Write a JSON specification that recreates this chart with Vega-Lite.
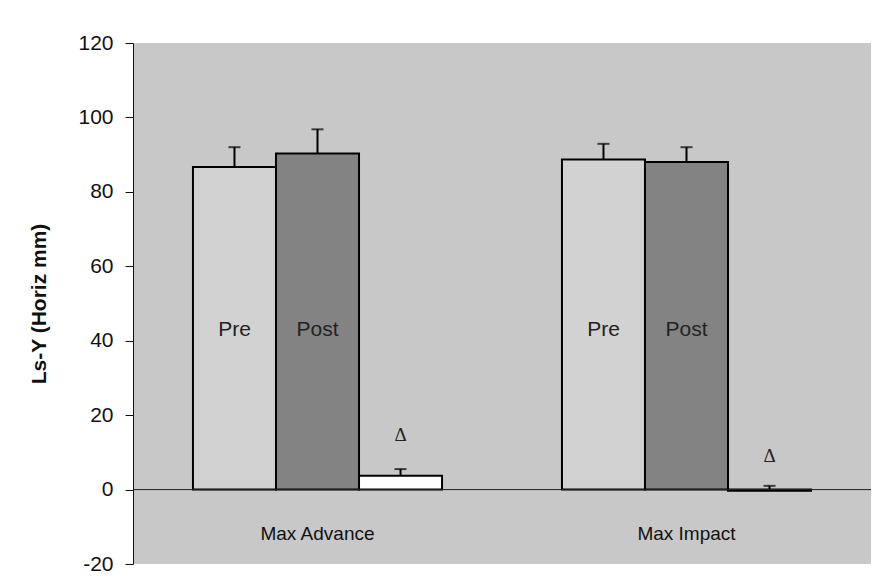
{
  "$schema": "https://vega.github.io/schema/vega-lite/v6.json",
  "width": 738,
  "height": 521,
  "autosize": {"type": "none"},
  "padding": {"left": 133, "top": 43, "right": 4, "bottom": 23},
  "background": "white",
  "config": {
    "view": {"fill": "#c8c8c8", "stroke": null},
    "font": "Liberation Sans"
  },
  "datasets": {
    "bars": [
      {"measure": "Max Advance", "phase": "Pre", "value": 86.7, "upper": 92.0},
      {"measure": "Max Advance", "phase": "Post", "value": 90.3, "upper": 96.8},
      {"measure": "Max Advance", "phase": "Δ", "value": 3.7, "upper": 5.5},
      {"measure": "Max Impact", "phase": "Pre", "value": 88.7, "upper": 92.9},
      {"measure": "Max Impact", "phase": "Post", "value": 88.0, "upper": 92.0},
      {"measure": "Max Impact", "phase": "Δ", "value": -0.3, "upper": 1.0}
    ],
    "labels": [
      {"measure": "Max Advance", "phase": "Pre", "at": 43, "text": "Pre"},
      {"measure": "Max Advance", "phase": "Post", "at": 43, "text": "Post"},
      {"measure": "Max Impact", "phase": "Pre", "at": 43, "text": "Pre"},
      {"measure": "Max Impact", "phase": "Post", "at": 43, "text": "Post"}
    ],
    "deltas": [
      {"measure": "Max Advance", "phase": "Δ", "at": 14.7, "text": "Δ"},
      {"measure": "Max Impact", "phase": "Δ", "at": 8.9, "text": "Δ"}
    ]
  },
  "encoding": {
    "x": {
      "field": "measure",
      "type": "nominal",
      "sort": ["Max Advance", "Max Impact"],
      "scale": {"paddingInner": 0.325, "paddingOuter": 0.1625},
      "axis": {
        "title": null,
        "labelAngle": 0,
        "labelFont": "Liberation Sans",
        "labelFontSize": 19,
        "labelColor": "#111",
        "labelPadding": 34,
        "domain": false,
        "ticks": false,
        "offset": -74
      }
    },
    "xOffset": {
      "field": "phase",
      "type": "nominal",
      "sort": ["Pre", "Post", "Δ"],
      "scale": {"paddingInner": 0, "paddingOuter": 0}
    }
  },
  "layer": [
    {
      "data": {"name": "bars"},
      "mark": {"type": "bar", "stroke": "black", "strokeWidth": 2},
      "encoding": {
        "y": {
          "field": "value",
          "type": "quantitative",
          "scale": {"domain": [-20, 120], "nice": false},
          "axis": {
            "title": "Ls-Y (Horiz mm)",
            "titleFont": "Liberation Sans",
            "titleFontSize": 21,
            "titleFontWeight": "bold",
            "titleColor": "#111",
            "titlePadding": 28,
            "values": [-20, 0, 20, 40, 60, 80, 100, 120],
            "labelExpr": "datum.value < 0 ? '-' + abs(datum.value) : datum.label",
            "grid": false,
            "domainColor": "#111",
            "tickColor": "#111",
            "tickSize": 8,
            "labelPadding": 12,
            "labelFont": "Liberation Sans",
            "labelFontSize": 21,
            "labelColor": "#111"
          }
        },
        "fill": {
          "field": "phase",
          "type": "nominal",
          "scale": {"domain": ["Pre", "Post", "Δ"], "range": ["#d2d2d2", "#838383", "#ffffff"]},
          "legend": null
        }
      }
    },
    {
      "data": {"name": "bars"},
      "mark": {"type": "rule", "color": "black", "strokeWidth": 2},
      "encoding": {
        "y": {"field": "value", "type": "quantitative"},
        "y2": {"field": "upper"}
      }
    },
    {
      "data": {"name": "bars"},
      "mark": {"type": "tick", "color": "black", "thickness": 2, "size": 12},
      "encoding": {
        "y": {"field": "upper", "type": "quantitative"}
      }
    },
    {
      "data": {"values": [{"zero": 0}]},
      "mark": {"type": "rule", "color": "#222", "strokeWidth": 1},
      "encoding": {
        "x": {"value": 0},
        "x2": {"value": "width"},
        "xOffset": null,
        "y": {"field": "zero", "type": "quantitative"}
      }
    },
    {
      "data": {"name": "labels"},
      "mark": {"type": "text", "font": "Liberation Sans", "fontSize": 21, "color": "#222", "baseline": "middle"},
      "encoding": {
        "y": {"field": "at", "type": "quantitative"},
        "text": {"field": "text"}
      }
    },
    {
      "data": {"name": "deltas"},
      "mark": {"type": "text", "font": "Liberation Serif", "fontSize": 19, "color": "#222", "baseline": "middle"},
      "encoding": {
        "y": {"field": "at", "type": "quantitative"},
        "text": {"field": "text"}
      }
    }
  ]
}
